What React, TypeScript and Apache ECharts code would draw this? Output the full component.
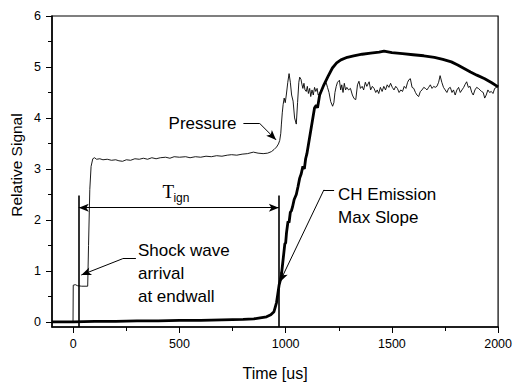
import React, { useEffect, useRef } from "react";
import * as echarts from "echarts";

const xTicks = [0, 500, 1000, 1500, 2000];
const yTicks = [0, 1, 2, 3, 4, 5, 6];

// [time (us), relative signal]
const pressure: [number, number][] = [
  [-100, 0], [-1, 0], [0, 0.72], [10, 0.73], [20, 0.71], [40, 0.7], [60, 0.7], [68, 0.7],
  [72, 1.5], [78, 2.6], [84, 3.05], [92, 3.2], [100, 3.22], [110, 3.19], [125, 3.2], [140, 3.18],
  [160, 3.19], [180, 3.17], [200, 3.18], [215, 3.16], [232, 3.15], [250, 3.18], [270, 3.17],
  [290, 3.2], [311, 3.19], [330, 3.21], [350, 3.19], [370, 3.22], [390, 3.2], [410, 3.22],
  [435, 3.23], [455, 3.21], [475, 3.24], [500, 3.23], [529, 3.24], [550, 3.22], [575, 3.24],
  [600, 3.23], [625, 3.25], [650, 3.24], [675, 3.26], [700, 3.25], [725, 3.27], [745, 3.28],
  [770, 3.27], [795, 3.29], [820, 3.3], [848, 3.33], [870, 3.31], [894, 3.3], [915, 3.31],
  [933, 3.34], [945, 3.38], [957, 3.43], [966, 3.49], [972, 3.56], [977, 3.7], [980, 3.88],
  [984, 4.1], [988, 4.26], [993, 4.39], [998, 4.3], [1003, 4.45], [1010, 4.7], [1016, 4.87],
  [1022, 4.7], [1028, 4.45], [1035, 4.33], [1042, 4.0], [1050, 3.88], [1056, 4.3], [1062, 4.7],
  [1066, 4.8], [1072, 4.76], [1077, 4.65], [1081, 4.58], [1086, 4.68], [1091, 4.55], [1097, 4.52],
  [1102, 4.62], [1107, 4.48], [1113, 4.58], [1118, 4.42], [1124, 4.55], [1130, 4.45], [1136, 4.6],
  [1142, 4.52], [1148, 4.58], [1153, 4.45], [1160, 4.48], [1168, 4.55], [1175, 4.6], [1182, 4.68],
  [1190, 4.7], [1197, 4.6], [1204, 4.5], [1212, 4.32], [1221, 4.23], [1227, 4.3], [1232, 4.5],
  [1238, 4.62], [1244, 4.7], [1253, 4.74], [1259, 4.55], [1264, 4.65], [1270, 4.5], [1276, 4.68],
  [1282, 4.55], [1288, 4.6], [1296, 4.55], [1305, 4.58], [1314, 4.45], [1322, 4.38], [1330, 4.36],
  [1338, 4.65], [1345, 4.72], [1352, 4.58], [1360, 4.62], [1367, 4.55], [1375, 4.7], [1382, 4.62],
  [1393, 4.71], [1400, 4.55], [1408, 4.62], [1416, 4.58], [1424, 4.5], [1431, 4.55], [1438, 4.48],
  [1446, 4.6], [1454, 4.52], [1462, 4.62], [1470, 4.55], [1478, 4.65], [1486, 4.6], [1494, 4.68],
  [1502, 4.6], [1510, 4.55], [1518, 4.62], [1526, 4.58], [1534, 4.5], [1542, 4.55], [1550, 4.52],
  [1558, 4.62], [1566, 4.58], [1574, 4.7], [1580, 4.75], [1587, 4.77], [1595, 4.6], [1603, 4.58],
  [1611, 4.5], [1618, 4.45], [1626, 4.42], [1634, 4.52], [1642, 4.55], [1650, 4.6], [1658, 4.58],
  [1665, 4.55], [1673, 4.6], [1681, 4.65], [1689, 4.58], [1697, 4.62], [1704, 4.6], [1712, 4.62],
  [1720, 4.7], [1727, 4.83], [1735, 4.7], [1743, 4.6], [1751, 4.55], [1759, 4.5], [1767, 4.58],
  [1775, 4.6], [1783, 4.5], [1790, 4.55], [1798, 4.45], [1806, 4.55], [1814, 4.6], [1822, 4.5],
  [1830, 4.55], [1838, 4.6], [1845, 4.66], [1852, 4.71], [1860, 4.6], [1868, 4.62], [1876, 4.5],
  [1883, 4.45], [1891, 4.55], [1899, 4.6], [1907, 4.58], [1915, 4.55], [1922, 4.52], [1930, 4.5],
  [1937, 4.39], [1944, 4.45], [1952, 4.55], [1960, 4.5], [1968, 4.52], [1976, 4.48], [1984, 4.58],
  [1992, 4.6], [2000, 4.62],
];

const chEmission: [number, number][] = [
  [-100, 0], [0, 0], [100, 0.01], [200, 0.01], [300, 0.02], [400, 0.02], [500, 0.03], [600, 0.03],
  [700, 0.04], [800, 0.05], [850, 0.06], [880, 0.08], [910, 0.1], [930, 0.14], [945, 0.2],
  [957, 0.38], [963, 0.55], [969, 0.72], [975, 0.82], [980, 0.92], [986, 1.15], [991, 1.34],
  [996, 1.53], [1000, 1.55], [1004, 1.75], [1011, 1.97], [1016, 1.95], [1022, 2.15], [1027, 2.18],
  [1032, 2.25], [1040, 2.4], [1050, 2.5], [1058, 2.65], [1066, 2.82], [1073, 2.9], [1081, 3.05],
  [1088, 3.0], [1094, 3.2], [1100, 3.3], [1108, 3.5], [1118, 3.75], [1128, 4.0], [1136, 4.2],
  [1144, 4.25], [1150, 4.2], [1160, 4.45], [1180, 4.65], [1200, 4.82], [1220, 4.98], [1240, 5.08],
  [1260, 5.14], [1290, 5.19], [1320, 5.22], [1360, 5.25], [1400, 5.27], [1440, 5.29], [1463, 5.31],
  [1500, 5.28], [1550, 5.26], [1600, 5.24], [1650, 5.22], [1700, 5.19], [1740, 5.15], [1780, 5.1],
  [1810, 5.04], [1840, 4.97], [1870, 4.9], [1900, 4.84], [1937, 4.77], [1970, 4.69], [2000, 4.61],
];

const shockTime = 26;
const ignTime = 968;
const markerTop = 2.48;
const tignLevel = 2.24;

const FONT = "'Liberation Sans', Arial, sans-serif";

export default function App() {
  const ref = useRef<HTMLDivElement>(null);
  useEffect(() => {
    const chart = echarts.init(ref.current!, null, { renderer: "svg" });
    const arrowEnd = { symbol: "arrow", symbolSize: [6, 10] };
    const noEnd = { symbol: "none" };
    const textLabel = (text: string, extra: any = {}) => ({
      show: true,
      position: [0, 0],
      align: "left",
      verticalAlign: "middle",
      formatter: text,
      color: "#000",
      fontFamily: FONT,
      fontSize: 17,
      lineHeight: 23,
      ...extra,
    });
    const plain = (v: number) => String(v);
    chart.setOption({
      animation: false,
      backgroundColor: "#fff",
      grid: { left: 52, right: 13, top: 16, bottom: 51, show: true, borderColor: "#000", borderWidth: 1.2 },
      xAxis: {
        type: "value",
        min: -100,
        max: 2000,
        name: "Time [us]",
        nameLocation: "middle",
        nameGap: 38,
        nameTextStyle: { color: "#000", fontFamily: FONT, fontSize: 16 },
        axisLine: { show: true, onZero: false, lineStyle: { color: "#000", width: 1.5 } },
        axisTick: { show: true, length: 6, customValues: xTicks, lineStyle: { color: "#000", width: 1 } },
        minorTick: { show: true, splitNumber: 2, length: 4, lineStyle: { color: "#000", width: 1 } },
        axisLabel: { customValues: xTicks, formatter: plain, color: "#000", fontFamily: FONT, fontSize: 12.5, margin: 10 },
        splitLine: { show: false },
      },
      yAxis: {
        type: "value",
        min: -0.1,
        max: 6,
        axisLine: { show: true, onZero: false, lineStyle: { color: "#000", width: 1.5 } },
        axisTick: { show: true, length: 6, customValues: yTicks, lineStyle: { color: "#000", width: 1 } },
        minorTick: { show: true, splitNumber: 2, length: 4, lineStyle: { color: "#000", width: 1 } },
        axisLabel: { customValues: yTicks, formatter: plain, color: "#000", fontFamily: FONT, fontSize: 12.5, margin: 11 },
        splitLine: { show: false },
      },
      graphic: [
        {
          type: "text",
          x: 16,
          y: 165,
          rotation: Math.PI / 2,
          style: { text: "Relative Signal", fill: "#000", fontFamily: FONT, fontSize: 15.5, align: "center", verticalAlign: "middle" },
        },
      ],
      series: [
        {
          name: "Pressure",
          type: "line",
          data: pressure,
          showSymbol: false,
          lineStyle: { color: "#000", width: 0.9 },
          z: 2,
          markLine: {
            silent: true,
            animation: false,
            symbol: ["none", "none"],
            label: { show: false },
            lineStyle: { color: "#000", width: 1, type: "solid" },
            data: [
              [{ coord: [801, 3.9], ...noEnd }, { coord: [876, 3.9], ...noEnd }],
              [{ coord: [876, 3.9], ...noEnd }, { coord: [955, 3.57], ...arrowEnd }],
              [{ coord: [295, 1.24], ...noEnd }, { coord: [233, 1.24], ...noEnd }],
              [{ coord: [233, 1.24], ...noEnd }, { coord: [38, 0.92], ...arrowEnd }],
              [{ coord: [1228, 2.59], ...noEnd }, { coord: [1180, 2.59], ...noEnd }],
              [{ coord: [1180, 2.59], ...noEnd }, { coord: [972, 0.78], ...arrowEnd }],
            ],
          },
          markPoint: {
            silent: true,
            animation: false,
            symbol: "circle",
            symbolSize: 1,
            itemStyle: { color: "rgba(0,0,0,0)" },
            data: [
              { coord: [451, 3.88], label: textLabel("Pressure") },
              { coord: [307, 0.94], label: textLabel("Shock wave\narrival\nat endwall") },
              { coord: [1249, 2.27], label: textLabel("CH Emission\nMax Slope") },
              { coord: [422, 2.54], label: textLabel("T", { fontFamily: "'Liberation Serif', 'Times New Roman', serif", fontSize: 19 }) },
              { coord: [474, 2.42], label: textLabel("ign", { fontSize: 12 }) },
            ],
          },
        },
        {
          name: "CH Emission",
          type: "line",
          data: chEmission,
          showSymbol: false,
          lineStyle: { color: "#000", width: 2.8 },
          z: 3,
          markLine: {
            silent: true,
            animation: false,
            symbol: ["none", "none"],
            label: { show: false },
            lineStyle: { color: "#000", width: 1.6, type: "solid" },
            data: [
              [{ coord: [shockTime, -0.1], ...noEnd }, { coord: [shockTime, markerTop], ...noEnd }],
              [{ coord: [ignTime, -0.1], ...noEnd }, { coord: [ignTime, markerTop], ...noEnd }],
              [
                { coord: [shockTime, tignLevel], ...arrowEnd, lineStyle: { width: 1 } },
                { coord: [ignTime, tignLevel], ...arrowEnd },
              ],
            ],
          },
        },
      ],
    });
    return () => chart.dispose();
  }, []);
  return (
    <div
      ref={ref}
      style={{ position: "fixed", left: 0, top: 0, width: 515, height: 386, background: "#fff" }}
    />
  );
}
